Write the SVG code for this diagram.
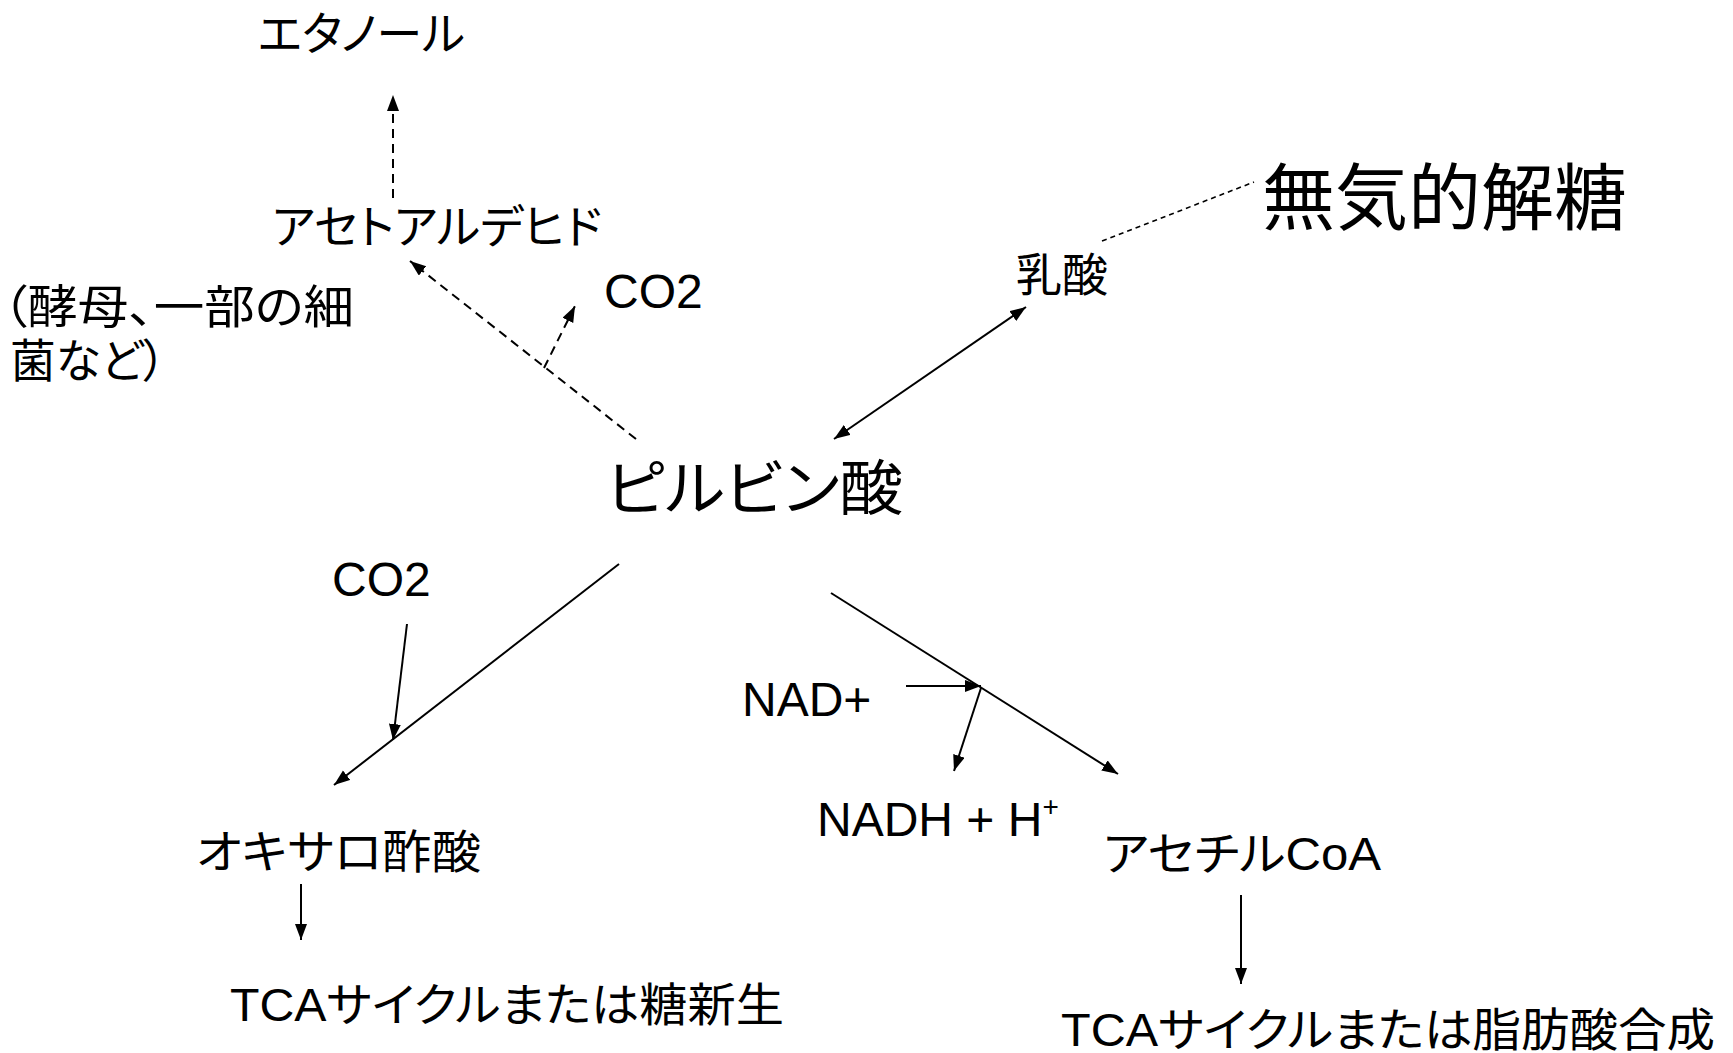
<svg xmlns="http://www.w3.org/2000/svg" width="1733" height="1053" viewBox="0 0 1733 1053">
<style>
text{font-family:"Liberation Sans","Noto Sans CJK JP",sans-serif;fill:#000;font-feature-settings:"palt"}
.m{font-size:46px}
.l{font-size:48px}
.ln{stroke:#000;stroke-width:2;fill:none}
.da{stroke-dasharray:9 6}
.dt{stroke-dasharray:5 4;stroke-width:1.6}
</style>
<defs>
<marker id="ah" markerUnits="userSpaceOnUse" markerWidth="18" markerHeight="14" refX="16" refY="6" orient="auto-start-reverse"><path d="M0,0 L16,6 L0,12 z" fill="#000"/></marker>
</defs>
<rect width="1733" height="1053" fill="#fff"/>
<g id="connectors">
<line class="ln da" x1="393" y1="198" x2="393" y2="95" marker-end="url(#ah)"/>
<line class="ln da" x1="636" y1="439" x2="410" y2="261" marker-end="url(#ah)"/>
<line class="ln da" x1="544" y1="368" x2="575" y2="306" marker-end="url(#ah)"/>
<line class="ln dt" x1="1102" y1="241" x2="1254" y2="182"/>
<line class="ln" x1="834" y1="439" x2="1026" y2="307" marker-start="url(#ah)" marker-end="url(#ah)"/>
<line class="ln" x1="619" y1="564" x2="334" y2="785" marker-end="url(#ah)"/>
<line class="ln" x1="407" y1="624" x2="393" y2="740" marker-end="url(#ah)"/>
<line class="ln" x1="831" y1="593" x2="1118" y2="774" marker-end="url(#ah)"/>
<line class="ln" x1="906" y1="686" x2="981" y2="686" marker-end="url(#ah)"/>
<line class="ln" x1="981" y1="688" x2="954" y2="771" marker-end="url(#ah)"/>
<line class="ln" x1="301" y1="884" x2="301" y2="940" marker-end="url(#ah)"/>
<line class="ln" x1="1241" y1="895" x2="1241" y2="984" marker-end="url(#ah)"/>
</g>
<g id="ethanol"><text class="m" x="258" y="50" textLength="207" lengthAdjust="spacingAndGlyphs">エタノール</text></g>
<g id="acetaldehyde"><text class="m" x="272" y="243" textLength="330" lengthAdjust="spacingAndGlyphs">アセトアルデヒド</text></g>
<g id="note"><text class="m" x="2" y="323" textLength="352" lengthAdjust="spacingAndGlyphs">（酵母、一部の細</text><text class="m" x="10" y="377" textLength="156" lengthAdjust="spacingAndGlyphs">菌など）</text></g>
<g id="co2-top"><text class="l" x="604" y="308">CO2</text></g>
<g id="lactate"><text class="m" x="1016" y="291">乳酸</text></g>
<g id="anaerobic"><text x="1262" y="224" style="font-size:73px">無気的解糖</text></g>
<g id="pyruvate"><text x="606" y="510" style="font-size:60px" textLength="297" lengthAdjust="spacingAndGlyphs">ピルビン酸</text></g>
<g id="co2-bottom"><text class="l" x="332" y="596">CO2</text></g>
<g id="oxaloacetate"><text class="m" x="196" y="868" textLength="285" lengthAdjust="spacingAndGlyphs">オキサロ酢酸</text></g>
<g id="tca1"><text class="m" x="230" y="1021" textLength="554" lengthAdjust="spacingAndGlyphs">TCAサイクルまたは糖新生</text></g>
<g id="nad"><text class="l" x="742" y="716">NAD+</text></g>
<g id="nadh"><text class="l" x="817" y="836">NADH + H<tspan dy="-20" style="font-size:28px">+</tspan></text></g>
<g id="acetylcoa"><text class="m" x="1103" y="870" textLength="278" lengthAdjust="spacingAndGlyphs">アセチルCoA</text></g>
<g id="tca2"><text class="m" x="1061" y="1046" textLength="654" lengthAdjust="spacingAndGlyphs">TCAサイクルまたは脂肪酸合成</text></g>
</svg>
